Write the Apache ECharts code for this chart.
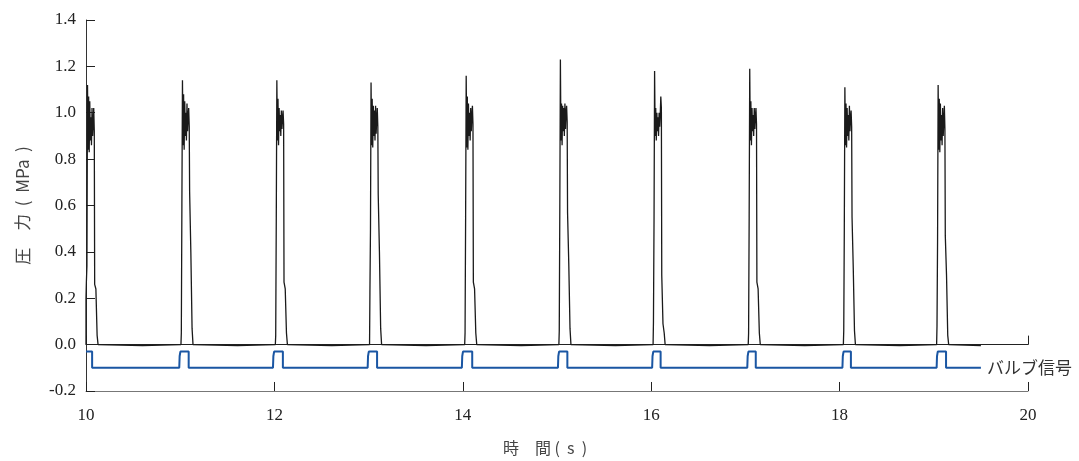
<!DOCTYPE html>
<html>
<head>
<meta charset="utf-8">
<script src="https://cdn.jsdelivr.net/npm/echarts@6/dist/echarts.min.js"></script>
<style>
html,body{margin:0;padding:0;background:#fff;}
#chart{width:1079px;height:461px;}
</style>
</head>
<body>
<div id="chart"></div>
<script>
// ---- data ----
const xRange = [10, 20];
const yRange = [-0.2, 1.4];
const seriesLabel = 'バルブ信号';

// pressure pulse start times (s)
const pulseStart = [10.00, 11.008, 12.01, 13.01, 14.02, 15.02, 16.02, 17.03, 18.04, 19.03];
// time offsets within a pulse (s)
const shapeDt = [0, 0.004, 0.010, 0.016, 0.022, 0.028, 0.034, 0.040, 0.046, 0.052, 0.058, 0.064,
                 0.070, 0.076, 0.082, 0.088, 0.092, 0.105, 0.118, 0.128, 0.14, 0.60, 0.62];
// pressure values (MPa) of each pulse at those offsets
const pulse10 = [0.20, 0.27, 0.34, 1.12, 0.84, 1.07, 0.83, 1.05, 0.88, 0.98, 0.86, 1.02, 0.90, 0.95, 1.02, 0.92, 0.26, 0.24, 0.04, 0.00, -0.005, -0.004, 0];
const pulse11 = [0.00, 0.05, 0.60, 1.14, 0.86, 1.08, 0.84, 1.05, 0.90, 1.00, 0.88, 1.04, 0.92, 0.98, 1.02, 0.94, 0.66, 0.40, 0.07, 0.00, -0.005, -0.004, 0];
const pulse12 = [0.00, 0.04, 0.55, 1.14, 0.88, 1.06, 0.86, 1.02, 0.92, 0.99, 0.90, 1.01, 0.93, 0.97, 1.01, 0.95, 0.27, 0.24, 0.05, 0.00, -0.005, -0.004, 0];
const pulse13 = [0.00, 0.22, 0.50, 1.13, 0.86, 1.06, 0.85, 1.03, 0.90, 1.01, 0.88, 1.03, 0.91, 0.97, 1.02, 0.94, 0.65, 0.40, 0.07, 0.00, -0.005, -0.004, 0];
const pulse14 = [0.00, 0.05, 0.55, 1.16, 0.85, 1.07, 0.84, 1.04, 0.90, 1.00, 0.88, 1.02, 0.92, 0.98, 1.03, 0.95, 0.27, 0.24, 0.05, 0.00, -0.005, -0.004, 0];
const pulse15 = [0.00, 0.06, 0.60, 1.23, 0.88, 1.04, 0.86, 1.03, 0.92, 1.02, 0.90, 1.04, 0.93, 1.00, 1.03, 0.96, 0.57, 0.35, 0.07, 0.00, -0.005, -0.004, 0];
const pulse16 = [0.00, 0.10, 0.53, 1.18, 0.90, 1.02, 0.88, 1.00, 0.92, 0.98, 0.90, 1.00, 0.94, 0.99, 1.07, 1.02, 0.30, 0.09, 0.05, 0.00, -0.005, -0.004, 0];
const pulse17 = [0.00, 0.05, 0.55, 1.19, 0.88, 1.05, 0.86, 1.02, 0.92, 0.99, 0.90, 1.02, 0.93, 0.98, 1.02, 0.95, 0.27, 0.24, 0.05, 0.00, -0.005, -0.004, 0];
const pulse18 = [0.00, 0.06, 0.50, 1.11, 0.86, 1.04, 0.85, 1.02, 0.90, 0.99, 0.88, 1.03, 0.92, 0.97, 1.01, 0.94, 0.55, 0.33, 0.06, 0.00, -0.005, -0.004, 0];
const pulse19 = [0.00, 0.08, 0.45, 1.12, 0.84, 1.06, 0.83, 1.04, 0.88, 0.99, 0.86, 1.02, 0.90, 0.96, 1.03, 0.93, 0.47, 0.30, 0.04, 0.00, -0.005, -0.004, 0];
const pulseValues = [pulse10, pulse11, pulse12, pulse13, pulse14, pulse15, pulse16, pulse17, pulse18, pulse19];
const pressureEnd = 19.5;

// valve signal (rise / fall times in s, levels in axis units)
const signalRise = [10.99, 11.985, 12.99, 13.99, 15.01, 16.01, 17.02, 18.03, 19.03];
const signalFall = [11.09, 12.09, 13.09, 14.10, 15.11, 16.10, 17.11, 18.12, 19.13];
const signalHigh = -0.03;
const signalLow = -0.10;
const signalFirstFall = 10.065;
const signalEnd = 19.5;

// ---- build series ----
const pressureData = [[10.0, 0]];
pulseValues.forEach((vals, k) => {
  const t0 = pulseStart[k];
  vals.forEach((v, i) => {
    const t = t0 + shapeDt[i];
    if (t <= pressureEnd) pressureData.push([t, v]);
  });
});
pressureData.push([pressureEnd, -0.004]);

const signalData = [[10.0, signalHigh], [signalFirstFall, signalHigh], [signalFirstFall, signalLow]];
signalRise.forEach((r, k) => {
  signalData.push([r, signalLow]);
  signalData.push([r + 0.004, -0.05]);
  signalData.push([r + 0.012, signalHigh]);
  signalData.push([signalFall[k], signalHigh]);
  signalData.push([signalFall[k], signalLow]);
});
signalData.push([signalEnd, signalLow]);

const serif = 'Liberation Serif';
const cjk = '"Noto Sans CJK JP", sans-serif';

const chart = echarts.init(document.getElementById('chart'), null, {renderer: 'canvas'});
chart.setOption({
  animation: false,
  backgroundColor: '#fff',
  grid: {left: 86, right: 51, top: 20, bottom: 67, containLabel: false},
  xAxis: [
    {
      type: 'value', min: xRange[0], max: xRange[1], interval: 2,
      position: 'bottom',
      axisLine: {onZero: false, lineStyle: {color: '#777', width: 1}},
      axisTick: {inside: true, length: 9, lineStyle: {color: '#222'}},
      axisLabel: {margin: 16, fontFamily: serif, fontSize: 17, color: '#222'},
      splitLine: {show: false},
      name: '時　間 (  s  )', nameLocation: 'middle', nameGap: 49,
      nameTextStyle: {fontFamily: cjk, fontSize: 16, color: '#444', padding: [0, 24, 0, 0]}
    },
    {
      type: 'value', min: xRange[0], max: xRange[1], interval: 10,
      position: 'top',
      axisLine: {onZero: true, lineStyle: {color: '#222', width: 1}},
      axisTick: {show: true, inside: false, length: 9, lineStyle: {color: '#222'}},
      axisLabel: {show: false},
      splitLine: {show: false}
    }
  ],
  yAxis: {
    type: 'value', min: yRange[0], max: yRange[1], interval: 0.2,
    axisLine: {show: true, lineStyle: {color: '#333', width: 1}},
    axisTick: {show: true, inside: true, length: 9, lineStyle: {color: '#222'}},
    axisLabel: {margin: 10, fontFamily: serif, fontSize: 17, color: '#222',
      formatter: v => (Math.abs(v) < 1e-9 ? 0 : v).toFixed(1)},
    splitLine: {show: false},
    name: '圧　力  (  MPa  )', nameLocation: 'middle', nameGap: 55, nameRotate: 90,
    nameTextStyle: {fontFamily: cjk, fontSize: 17, color: '#444'}
  },
  series: [
    {
      type: 'line', xAxisIndex: 0, data: pressureData, showSymbol: false, symbol: 'none',
      lineStyle: {color: '#1a1a1a', width: 1.3}, z: 3
    },
    {
      type: 'line', xAxisIndex: 0, data: signalData, showSymbol: false, symbol: 'none',
      lineStyle: {color: '#1a56a3', width: 2}, z: 2,
      endLabel: {show: true, formatter: seriesLabel, distance: 6,
        fontFamily: cjk, fontSize: 17, color: '#333'}
    }
  ]
});
</script>
</body>
</html>
